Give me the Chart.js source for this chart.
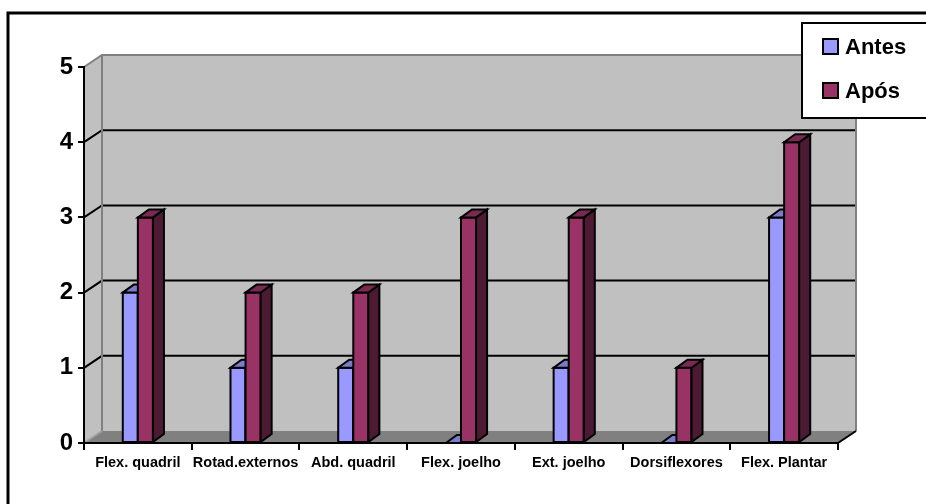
<!DOCTYPE html>
<html>
<head>
<meta charset="utf-8">
<script src="https://cdn.jsdelivr.net/npm/chart.js@4/dist/chart.umd.min.js"></script>
<style>
html,body{margin:0;padding:0;background:#fff;}
#wrap{width:926px;height:504px;position:relative;}
</style>
</head>
<body>
<div id="wrap"><canvas id="c" width="926" height="504"></canvas></div>
<script>
const categories = ['Flex. quadril','Rotad.externos','Abd. quadril','Flex. joelho','Ext. joelho','Dorsiflexores','Flex. Plantar'];
const antes = [2, 1, 1, 0, 1, 0, 3];
const apos = [3, 2, 2, 3, 3, 1, 4];
const seriesNames = ['Antes', 'Após'];
const yTicks = [0, 1, 2, 3, 4, 5];

const FONT = "Arial, 'Liberation Sans', sans-serif";
const frontColors = ['#9999FF', '#993366'];
const topColors = ['#7B7BCC', '#7A2952'];
const sideColors = ['#4D4D80', '#4D1A33'];

const wallDepth = {dx: 18, dy: -12};
const barDepth = {dx: 11, dy: -8};

const threeD = {
  id: 'threeD',
  beforeDraw(chart) {
    const ctx = chart.ctx, a = chart.chartArea, y = chart.scales.y;
    const L = a.left, R = a.right, T = a.top, B = a.bottom, dx = wallDepth.dx, dy = wallDepth.dy;
    ctx.save();
    ctx.fillStyle = '#fff';
    ctx.fillRect(0, 0, chart.width, chart.height);
    ctx.strokeStyle = '#000'; ctx.lineWidth = 3;
    ctx.beginPath(); ctx.moveTo(8, chart.height + 5); ctx.lineTo(8, 13); ctx.lineTo(chart.width + 5, 13); ctx.stroke();
    ctx.fillStyle = '#C0C0C0';
    ctx.fillRect(L + dx, T + dy, R - L, B - T);
    ctx.beginPath(); ctx.moveTo(L, T); ctx.lineTo(L + dx, T + dy); ctx.lineTo(L + dx, B + dy); ctx.lineTo(L, B); ctx.closePath(); ctx.fill();
    ctx.fillStyle = '#808080';
    ctx.beginPath(); ctx.moveTo(L, B); ctx.lineTo(R, B); ctx.lineTo(R + dx, B + dy); ctx.lineTo(L + dx, B + dy); ctx.closePath(); ctx.fill();
    ctx.strokeStyle = '#000'; ctx.lineWidth = 2;
    yTicks.forEach(v => {
      if (v === yTicks[0] || v === yTicks[yTicks.length - 1]) return;
      const yy = y.getPixelForValue(v);
      ctx.beginPath(); ctx.moveTo(L, yy); ctx.lineTo(L + dx, yy + dy); ctx.lineTo(R + dx, yy + dy); ctx.stroke();
    });
    ctx.strokeStyle = '#808080';
    ctx.beginPath();
    ctx.moveTo(L, T); ctx.lineTo(L + dx, T + dy); ctx.lineTo(R + dx, T + dy); ctx.lineTo(R + dx, B + dy);
    ctx.moveTo(L + dx, T + dy); ctx.lineTo(L + dx, B + dy);
    ctx.stroke();
    ctx.strokeStyle = '#A0A0A0';
    ctx.beginPath(); ctx.moveTo(L, B); ctx.lineTo(L + dx, B + dy); ctx.stroke();
    ctx.strokeStyle = '#000';
    ctx.beginPath(); ctx.moveTo(R, B); ctx.lineTo(R + dx, B + dy); ctx.stroke();
    ctx.restore();
  },
  afterDatasetsDraw(chart) {
    const ctx = chart.ctx;
    const metas = chart.data.datasets.map((d, i) => chart.getDatasetMeta(i));
    ctx.save();
    ctx.lineWidth = 2; ctx.strokeStyle = '#000'; ctx.lineJoin = 'miter';
    const bdx = barDepth.dx, bdy = barDepth.dy;
    for (let i = 0; i < categories.length; i++) {
      metas.forEach((m, di) => {
        const el = m.data[i];
        const p = el.getProps(['x', 'y', 'base', 'width'], true);
        const x0 = p.x - p.width / 2, x1 = p.x + p.width / 2, yt = p.y, yb = p.base;
        ctx.fillStyle = frontColors[di];
        ctx.beginPath(); ctx.rect(x0, yt, x1 - x0, yb - yt); ctx.fill(); ctx.stroke();
        ctx.fillStyle = sideColors[di];
        ctx.beginPath(); ctx.moveTo(x1, yt); ctx.lineTo(x1 + bdx, yt + bdy); ctx.lineTo(x1 + bdx, yb + bdy); ctx.lineTo(x1, yb); ctx.closePath(); ctx.fill(); ctx.stroke();
        ctx.fillStyle = topColors[di];
        ctx.beginPath(); ctx.moveTo(x0, yt); ctx.lineTo(x1, yt); ctx.lineTo(x1 + bdx, yt + bdy); ctx.lineTo(x0 + bdx, yt + bdy); ctx.closePath(); ctx.fill(); ctx.stroke();
      });
    }
    ctx.restore();
  },
  afterDraw(chart) {
    const ctx = chart.ctx;
    ctx.save();
    ctx.fillStyle = '#fff'; ctx.strokeStyle = '#000'; ctx.lineWidth = 2;
    ctx.beginPath(); ctx.rect(802, 23, 140, 95); ctx.fill(); ctx.stroke();
    ctx.font = 'bold 22px ' + FONT; ctx.textBaseline = 'middle'; ctx.textAlign = 'left';
    seriesNames.forEach((n, i) => {
      const yy = 47 + i * 44;
      ctx.fillStyle = frontColors[i]; ctx.lineWidth = 2;
      ctx.beginPath(); ctx.rect(823, yy - 8, 15, 15); ctx.fill(); ctx.stroke();
      ctx.fillStyle = '#000';
      ctx.fillText(n, 845, yy + 1);
    });
    ctx.restore();
  }
};

new Chart(document.getElementById('c'), {
  type: 'bar',
  data: {
    labels: categories,
    datasets: [
      {label: seriesNames[0], data: antes, backgroundColor: frontColors[0], borderColor: '#000', borderWidth: 0},
      {label: seriesNames[1], data: apos, backgroundColor: frontColors[1], borderColor: '#000', borderWidth: 0}
    ]
  },
  options: {
    responsive: false,
    devicePixelRatio: 1,
    animation: false,
    categoryPercentage: 0.28,
    barPercentage: 1.0,
    layout: {padding: {top: 67, right: 88, left: 0, bottom: 0}},
    plugins: {legend: {display: false}, tooltip: {enabled: false}},
    scales: {
      x: {
        offset: true,
        grid: {offset: true, drawOnChartArea: false, drawTicks: true, tickLength: 7, color: '#000', lineWidth: 2},
        border: {display: true, color: '#000', width: 2},
        ticks: {color: '#000', font: {family: FONT, size: 14.5, weight: 'bold'}, maxRotation: 0, minRotation: 0, autoSkip: false, padding: 4},
        afterFit(s) { s.height = 61; }
      },
      y: {
        min: 0, max: 5,
        ticks: {stepSize: 1, color: '#000', font: {family: FONT, size: 24, weight: 'bold'}, padding: 5},
        grid: {drawOnChartArea: false, drawTicks: true, tickLength: 6, color: '#000', lineWidth: 2},
        border: {display: true, color: '#000', width: 2},
        afterFit(s) { s.width = 84; }
      }
    }
  },
  plugins: [threeD]
});
</script>
</body>
</html>
